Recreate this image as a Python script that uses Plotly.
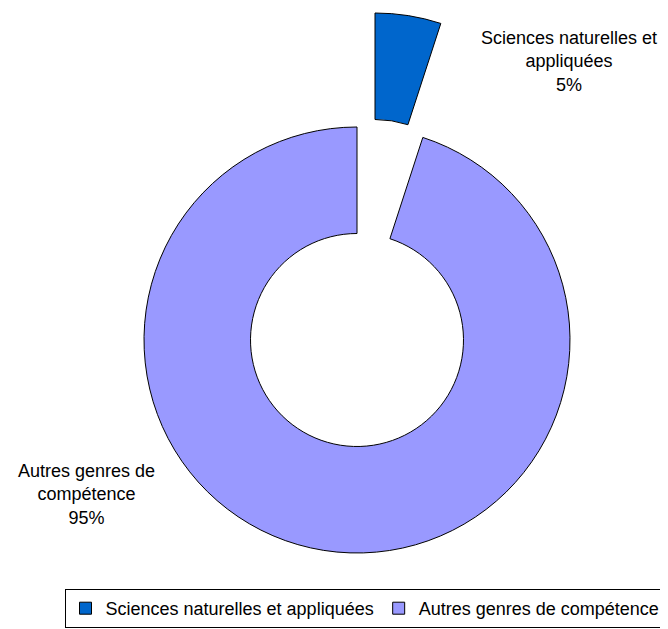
import plotly.graph_objects as go

# Data
labels = ["Sciences naturelles et appliquées", "Autres genres de compétence"]
values = [5, 95]
label_texts = ["Sciences naturelles et<br>appliquées<br>5%", "Autres genres de<br>compétence<br>95%"]

COLORS = {
    "blue": "#0066CC",
    "purple": "#9999FF",
    "none": "rgba(0,0,0,0)",
    "edge": "#000000",
    "text": "#000000",
}
FONT = "Liberation Sans, Arial, sans-serif"

# page body has an 8px margin, so the figure is 8px smaller each way
W, H = 660, 621


def px_x(x):
    return (x - 8) / W


def px_y(y):
    return 1 - (y - 8) / H


fig = go.Figure()

# legend-only pie, tiny and hidden under the main ring
fig.add_trace(go.Pie(
    labels=labels,
    values=values,
    sort=False,
    direction="clockwise",
    rotation=0,
    marker=dict(colors=[COLORS["blue"], COLORS["purple"]],
                line=dict(color=COLORS["edge"], width=1)),
    textinfo="none",
    hoverinfo="skip",
    domain=dict(x=[px_x(357), px_x(358)], y=[px_y(501), px_y(500)]),
    showlegend=True,
))

# main ring, exploded slice left empty
fig.add_trace(go.Pie(
    labels=labels,
    values=values,
    sort=False,
    direction="clockwise",
    rotation=0,
    hole=0.5,
    marker=dict(colors=[COLORS["none"], COLORS["purple"]],
                line=dict(color=[COLORS["none"], COLORS["edge"]], width=1)),
    textinfo="none",
    hoverinfo="label+percent",
    domain=dict(x=[px_x(144), px_x(570)], y=[px_y(553), px_y(127)]),
    showlegend=False,
))

# exploded slice, drawn as a shifted copy of the ring
fig.add_trace(go.Pie(
    labels=labels,
    values=values,
    sort=False,
    direction="clockwise",
    rotation=0,
    hole=0.5,
    marker=dict(colors=[COLORS["blue"], COLORS["none"]],
                line=dict(color=[COLORS["edge"], COLORS["none"]], width=1)),
    textinfo="none",
    hoverinfo="label+percent",
    domain=dict(x=[px_x(162), px_x(588)], y=[px_y(439), px_y(13)]),
    showlegend=False,
))

fig.add_annotation(x=px_x(569), y=px_y(62), xref="paper", yref="paper",
                   xanchor="center", yanchor="middle",
                   text=label_texts[0], showarrow=False, align="center",
                   font=dict(size=18, color=COLORS["text"], family=FONT))
fig.add_annotation(x=px_x(86), y=px_y(494), xref="paper", yref="paper",
                   xanchor="center", yanchor="middle",
                   text=label_texts[1], showarrow=False, align="center",
                   font=dict(size=18, color=COLORS["text"], family=FONT))

fig.update_layout(
    width=W,
    height=H,
    margin=dict(l=0, r=0, t=0, b=0),
    paper_bgcolor="white",
    plot_bgcolor="white",
    font=dict(family=FONT, size=18, color=COLORS["text"]),
    legend=dict(
        orientation="h",
        x=px_x(365), xanchor="center",
        y=px_y(628), yanchor="bottom",
        bordercolor="#000000", borderwidth=1,
        font=dict(size=18),
        itemwidth=30,
        tracegroupgap=0,
    ),
)

fig.write_html("out.html")
